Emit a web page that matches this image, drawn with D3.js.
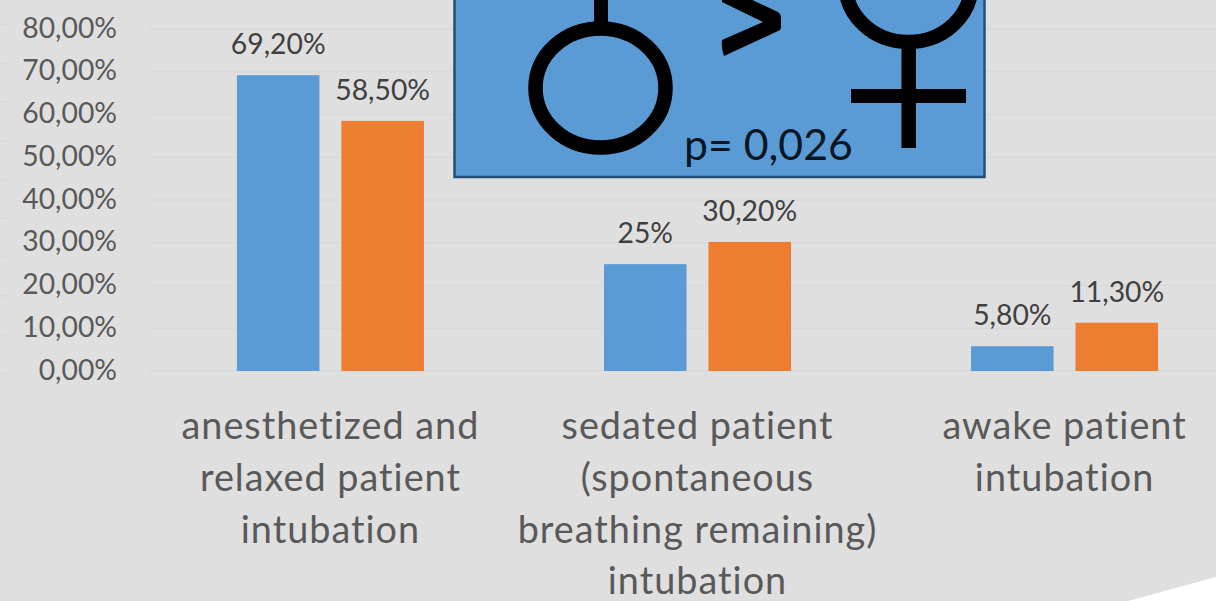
<!DOCTYPE html>
<html><head><meta charset="utf-8">
<script src="https://cdn.jsdelivr.net/npm/d3@7"></script>
<style>html,body{margin:0;padding:0;background:#fff;overflow:hidden}svg{display:block;font-family:Lato,"Open Sans",sans-serif}</style>
</head><body><svg id="c" width="1216" height="601"></svg>
<script>
const categories = ["anesthetized and relaxed patient intubation","sedated patient (spontaneous breathing remaining) intubation","awake patient intubation"];
const categoryLines = [["anesthetized and","relaxed patient","intubation"],["sedated patient","(spontaneous","breathing remaining)","intubation"],["awake patient","intubation"]];
const seriesA = [69.2,25,5.8];
const seriesB = [58.5,30.2,11.3];
const labelsA = ["69,20%","25%","5,80%"];
const labelsB = ["58,50%","30,20%","11,30%"];
const yTicks = [0,10,20,30,40,50,60,70,80];
const yTickLabels = ["0,00%","10,00%","20,00%","30,00%","40,00%","50,00%","60,00%","70,00%","80,00%"];
const stubTicks = [0,1,2,3,4,5,6,7,8,9];
const seriesNames = ["A","B"];
const colors = ["#5B9BD5","#ED7D31"];
const pValue = "p= 0,026";

const svg = d3.select("#c");
svg.append("path").attr("d","M0,0H1216V577L1128,601H0Z").attr("fill","#dfdfdf");

const y = d3.scaleLinear().domain([0,80]).range([371,29]);
const x = d3.scaleBand().domain(categories).range([147,1248]).paddingInner(0.4905).paddingOuter(0.245);
const xs = d3.scaleBand().domain(seriesNames).range([0,x.bandwidth()]).paddingInner(0.21);
const stub = d3.scaleLinear().domain([0,9]).range([373.5,24.3]);

// partial gridlines of the slide behind the chart
svg.append("g").selectAll("line").data(stubTicks).join("line")
  .attr("x1",0).attr("x2",10).attr("y1",d=>stub(d)).attr("y2",d=>stub(d))
  .attr("stroke","#d9d9d9").attr("stroke-width",1.5);

const gy = svg.append("g");
gy.selectAll("line").data(yTicks).join("line")
  .attr("x1",148).attr("x2",1216).attr("y1",d=>y(d)).attr("y2",d=>y(d))
  .attr("stroke","#d9d9d9").attr("stroke-width",1.5);
gy.selectAll("text").data(yTicks).join("text")
  .attr("x",117).attr("y",d=>y(d)+8.5).attr("text-anchor","end")
  .attr("font-size",28.3).attr("fill","#595959").text((d,i)=>yTickLabels[i]);

const groups = svg.append("g").selectAll("g").data(categories).join("g")
  .attr("transform",d=>`translate(${x(d)},0)`);
groups.each(function(c,i){
  const g = d3.select(this);
  [[seriesA,labelsA],[seriesB,labelsB]].forEach(([vals,labs],k)=>{
    const n = seriesNames[k];
    g.append("rect").attr("x",xs(n)).attr("width",xs.bandwidth())
      .attr("y",y(vals[i])).attr("height",y(0)-y(vals[i])).attr("fill",colors[k]);
    g.append("text").attr("x",xs(n)+xs.bandwidth()/2).attr("y",y(vals[i])-21)
      .attr("text-anchor","middle").attr("font-size",28.3).attr("fill","#404040").text(labs[i]);
  });
  const cx = x.bandwidth()/2;
  categoryLines[i].forEach((t,j)=>{
    g.append("text").attr("x",cx).attr("y",439+j*51.8).attr("text-anchor","middle")
      .attr("font-size",37.8).attr("letter-spacing",1).attr("fill","#595959").text(t);
  });
});

// annotation box
const box = svg.append("g");
box.append("rect").attr("x",454.5).attr("y",-10).attr("width",530).attr("height",187)
  .attr("fill","#5B9BD5").attr("stroke","#264F78").attr("stroke-width",2.5);
const ink = "#000";
box.append("ellipse").attr("cx",600.5).attr("cy",88).attr("rx",65).attr("ry",59.5)
  .attr("fill","none").attr("stroke",ink).attr("stroke-width",14.5);
box.append("rect").attr("x",594).attr("y",-2).attr("width",14).attr("height",26).attr("fill",ink);
box.append("ellipse").attr("cx",908.5).attr("cy",-16).attr("rx",63).attr("ry",58)
  .attr("fill","none").attr("stroke",ink).attr("stroke-width",14.5);
box.append("rect").attr("x",901.5).attr("y",45).attr("width",14.5).attr("height",103).attr("fill",ink);
box.append("rect").attr("x",851).attr("y",89).attr("width",115).attr("height",14).attr("fill",ink);
box.append("path").attr("d","M748,-2 L778,12 Q781,14 781,18 V27 Q781,30 778,31 L724,56 Q721,48 722,40 L763,22 L722,2 V-2 Z").attr("fill",ink);
box.append("text").attr("x",684).attr("y",160).attr("font-size",42.8).attr("fill","#0a1622").text(pValue);
</script></body></html>
